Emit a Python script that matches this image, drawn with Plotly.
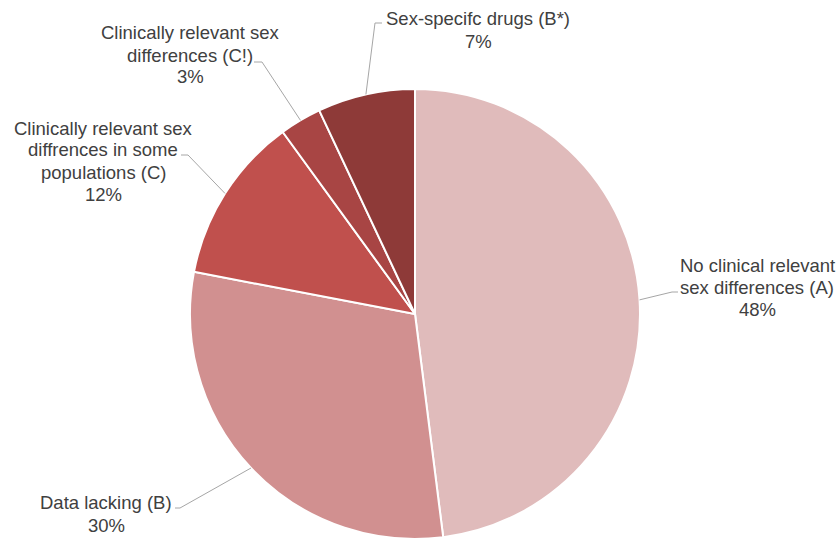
import math
import plotly.graph_objects as go

# Share of drugs by sex-difference category
categories = [
    "No clinical relevant sex differences (A)",
    "Data lacking (B)",
    "Clinically relevant sex diffrences in some populations (C)",
    "Clinically relevant sex differences (C!)",
    "Sex-specifc drugs (B*)",
]
label_lines = [
    ["No clinical relevant", "sex differences (A)"],
    ["Data lacking (B)"],
    ["Clinically relevant sex", "diffrences in some", "populations (C)"],
    ["Clinically relevant sex", "differences (C!)"],
    ["Sex-specifc drugs (B*)"],
]
shares = [48, 30, 12, 3, 7]
colors = ["#e0bbbb", "#d19090", "#c0504d", "#a84544", "#8e3a38"]

W, H = 840, 539
CX, CY, R = 415, 314, 225  # pie centre and radius in pixels
LINE_H = 22                # label line spacing in pixels

# label placement (pixels): text centre, elbow point, end of leader
label_pos = [
    dict(tx=757, ty=287, elbow=(672, 292), end=(678, 292)),
    dict(tx=106, ty=514, elbow=(180, 508), end=(175, 508)),
    dict(tx=103, ty=161, elbow=(188, 155), end=(181, 155)),
    dict(tx=190, ty=55, elbow=(262, 62), end=(254, 62)),
    dict(tx=478, ty=30, elbow=(375, 23), end=(382, 23)),
]


def px(x):
    return x / W


def py(y):
    return 1 - y / H


fig = go.Figure(
    go.Pie(
        labels=categories,
        values=shares,
        sort=False,
        direction="clockwise",
        rotation=0,
        marker=dict(colors=colors, line=dict(color="white", width=2)),
        textinfo="none",
        hoverinfo="label+percent",
        domain=dict(x=[0, 2 * CX / W], y=[0, 1 - (CY - R) / H]),
        showlegend=False,
    )
)

total = sum(shares)
cum = 0
annotations = []
shapes = []
for lines, val, pos in zip(label_lines, shares, label_pos):
    mid = (cum + val / 2) / total * 2 * math.pi
    cum += val
    ex = CX + R * math.sin(mid)
    ey = CY - R * math.cos(mid)
    (bx, by), (qx, qy) = pos["elbow"], pos["end"]
    shapes.append(
        dict(
            type="path",
            xref="paper",
            yref="paper",
            path=f"M {px(ex)},{py(ey)} L {px(bx)},{py(by)} L {px(qx)},{py(qy)}",
            line=dict(color="#a6a6a6", width=1),
        )
    )
    rows = lines + [f"{val}%"]
    n = len(rows)
    for i, row in enumerate(rows):
        annotations.append(
            dict(
                x=px(pos["tx"]),
                y=py(pos["ty"] + (i - (n - 1) / 2) * LINE_H),
                xref="paper",
                yref="paper",
                xanchor="center",
                yanchor="middle",
                align="center",
                showarrow=False,
                text=row,
                font=dict(family="Liberation Sans, Arial, sans-serif", size=18.5, color="#404040"),
            )
        )

fig.update_layout(
    width=W,
    height=H,
    margin=dict(l=0, r=0, t=0, b=0),
    paper_bgcolor="white",
    plot_bgcolor="white",
    annotations=annotations,
    shapes=shapes,
)

fig.write_html("out.html")
